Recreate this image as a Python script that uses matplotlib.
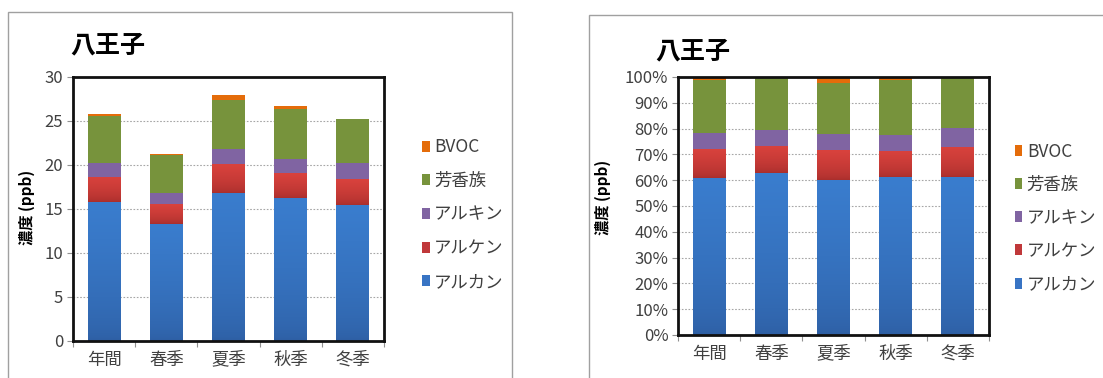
import numpy as np
import matplotlib

matplotlib.use("Agg")
import matplotlib.pyplot as plt
from matplotlib.colors import LinearSegmentedColormap
from matplotlib.patches import Patch, Rectangle
from matplotlib.ticker import FixedLocator, PercentFormatter

plt.rcParams["font.family"] = ["Noto Sans CJK JP", "DejaVu Sans"]

# Seasonal VOC concentrations at Hachioji (ppb), stacked by component group
seasons = ["年間", "春季", "夏季", "秋季", "冬季"]
groups = ["アルカン", "アルケン", "アルキン", "芳香族", "BVOC"]
alkane = [15.76, 13.33, 16.85, 16.30, 15.45]
alkene = [2.91, 2.24, 3.23, 2.75, 2.95]
alkyne = [1.60, 1.28, 1.72, 1.60, 1.87]
aromatic = [5.30, 4.29, 5.60, 5.68, 4.93]
bvoc = [0.26, 0.11, 0.60, 0.34, 0.07]

series = [alkane, alkene, alkyne, aromatic, bvoc]
colors = ["#3874C4", "#C0383A", "#8064A2", "#77933C", "#E46C0A"]
# vertical shading (bottom, top) for the two lower segments
gradients = {0: ("#2E5FA4", "#3A7DCE"), 1: ("#A82E2C", "#D9423D")}

TEXT = "#404040"
GRID = "#A6A6A6"


def shade(ax, bars, bottom, top):
    cmap = LinearSegmentedColormap.from_list("shade", [bottom, top])
    grad = np.linspace(0, 1, 64).reshape(-1, 1) ** 0.6
    for b in bars:
        x, y = b.get_xy()
        w, h = b.get_width(), b.get_height()
        im = ax.imshow(grad, extent=(x, x + w, y, y + h), origin="lower",
                       cmap=cmap, aspect="auto", zorder=b.get_zorder() + 0.1,
                       interpolation="bilinear", vmin=0, vmax=1)
        im.set_clip_path(b)


def stacked(ax, data):
    x = np.arange(len(seasons))
    base = np.zeros(len(seasons))
    for i, vals in enumerate(data):
        bars = ax.bar(x, vals, 0.53, bottom=base, color=colors[i], zorder=2)
        if i in gradients:
            shade(ax, bars, *gradients[i])
        base += np.asarray(vals)
    ax.set_xlim(-0.5, len(seasons) - 0.5)
    ax.set_xticks(x)
    ax.set_xticklabels(seasons, fontsize=12.5, color=TEXT)
    ax.tick_params(axis="x", which="major", length=0, pad=7)
    ax.xaxis.set_minor_locator(FixedLocator(np.arange(-0.5, len(seasons), 1.0)))
    ax.tick_params(axis="x", which="minor", length=4, color="#909090", width=0.8)
    ax.tick_params(axis="y", length=4, color="#909090", width=0.8,
                   labelsize=12, labelcolor=TEXT, pad=3)
    ax.yaxis.grid(True, color=GRID, linestyle=(0, (1.5, 1.5)), linewidth=0.8)
    ax.set_axisbelow(True)
    for sp in ax.spines.values():
        sp.set_color("#111111")
        sp.set_linewidth(2)
        sp.set_zorder(5)
    handles = [Patch(facecolor=colors[i], label=groups[i]) for i in range(len(groups))][::-1]
    return handles


fig = plt.figure(figsize=(11.03, 3.78), dpi=100)

# outer chart frames
fig.patches.append(Rectangle((0.0073, -0.1), 0.4569, 1.0683, transform=fig.transFigure,
                             fill=False, edgecolor="#A0A0A0", linewidth=1))
fig.patches.append(Rectangle((0.534, -0.1), 0.6, 1.060, transform=fig.transFigure,
                             fill=False, edgecolor="#A0A0A0", linewidth=1))

legend_kw = dict(loc="center left", frameon=False, fontsize=12.5, handlelength=0.45,
                 handleheight=0.6, handletextpad=0.25, borderpad=0, labelcolor=TEXT)

# absolute concentrations
ax1 = fig.add_axes([0.0662, 0.0979, 0.2820, 0.6984])
h = stacked(ax1, series)
ax1.set_ylim(0, 30)
ax1.set_yticks(np.arange(0, 31, 5))
fig.text(0.0640, 0.881, "八王子", fontsize=18, fontweight="bold", va="center", ha="left")
fig.text(0.0245, 0.452, "濃度 (ppb)", fontsize=11, fontweight="bold", rotation=90,
         va="center", ha="center")
fig.legend(handles=h, bbox_to_anchor=(0.3745, 0.4325), labelspacing=0.9, **legend_kw)

# share of each component
totals = np.sum(series, axis=0)
shares = [list(np.asarray(s) / totals * 100) for s in series]
ax2 = fig.add_axes([0.6147, 0.1138, 0.2820, 0.6825])
h = stacked(ax2, shares)
ax2.set_ylim(0, 100)
ax2.set_yticks(np.arange(0, 101, 10))
ax2.yaxis.set_major_formatter(PercentFormatter(decimals=0))
fig.text(0.5940, 0.863, "八王子", fontsize=18, fontweight="bold", va="center", ha="left")
fig.text(0.5465, 0.479, "濃度 (ppb)", fontsize=11, fontweight="bold", rotation=90,
         va="center", ha="center")
fig.legend(handles=h, bbox_to_anchor=(0.912, 0.4233), labelspacing=0.87, **legend_kw)

fig.savefig("out.png", dpi=100)
